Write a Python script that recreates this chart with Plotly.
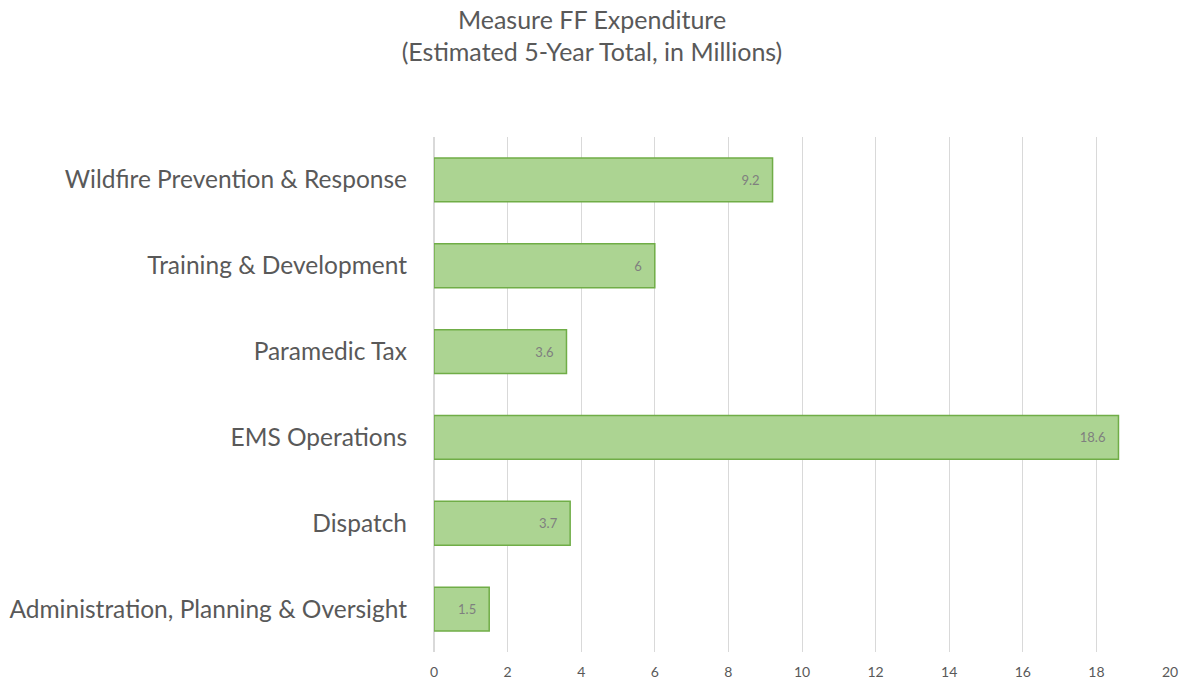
import plotly.graph_objects as go

categories = [
    "Administration, Planning & Oversight",
    "Dispatch",
    "EMS Operations",
    "Paramedic Tax",
    "Training & Development",
    "Wildfire Prevention & Response",
]
values = [1.5, 3.7, 18.6, 3.6, 6, 9.2]
x_ticks = [0, 2, 4, 6, 8, 10, 12, 14, 16, 18, 20]

FONT = "Lato, 'Open Sans', sans-serif"
GREY = "#595959"

fig = go.Figure(
    go.Bar(
        y=categories,
        x=values,
        orientation="h",
        marker=dict(color="#acd492", line=dict(color="#70ad47", width=1.5)),
        texttemplate="%{x}\u00a0\u00a0\u00a0",
        textposition="inside",
        insidetextanchor="end",
        textfont=dict(family=FONT, size=13, color="#7f7f7f"),
        hoverinfo="x+y",
    )
)

fig.update_layout(
    width=1184,
    height=681,
    paper_bgcolor="white",
    plot_bgcolor="white",
    margin=dict(l=434, r=14, t=137, b=29, autoexpand=False),
    bargap=0.49,
    showlegend=False,
    title=dict(
        text="Measure FF Expenditure<br>(Estimated 5-Year Total, in Millions)",
        x=0.5,
        xanchor="center",
        y=0.958,
        yanchor="top",
        font=dict(family=FONT, size=25, color=GREY),
    ),
    xaxis=dict(
        range=[0, 20],
        tickvals=x_ticks,
        showgrid=True,
        gridcolor="#d9d9d9",
        gridwidth=1,
        zeroline=True,
        zerolinecolor="#d9d9d9",
        showline=False,
        automargin=False,
        tickfont=dict(family=FONT, size=14, color=GREY),
        ticks="",
        ticklabelstandoff=10,
    ),
    yaxis=dict(
        categoryorder="array",
        categoryarray=categories,
        showgrid=False,
        showline=False,
        automargin=False,
        ticks="",
        ticklabelstandoff=26,
        tickfont=dict(family=FONT, size=24.5, color=GREY),
    ),
)

fig.write_html(
    "out.html",
    config={"displayModeBar": False},
    post_script="document.body.style.margin='0';document.body.style.overflow='hidden';",
)
